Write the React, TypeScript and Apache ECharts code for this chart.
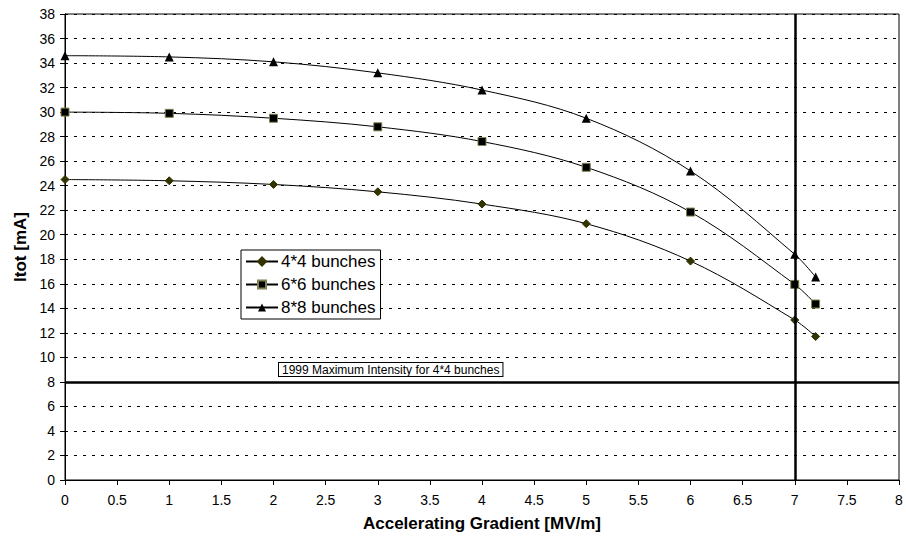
import React, { useEffect, useRef } from "react";
import * as echarts from "echarts";

const gradient = [0, 1, 2, 3, 4, 5, 6, 7, 7.2];
const bunches4 = [24.5, 24.4, 24.1, 23.5, 22.5, 20.9, 17.85, 13.05, 11.7];
const bunches6 = [30.0, 29.9, 29.5, 28.8, 27.6, 25.5, 21.85, 15.95, 14.35];
const bunches8 = [34.6, 34.5, 34.1, 33.2, 31.8, 29.5, 25.2, 18.4, 16.55];
const seriesNames = ["4*4 bunches", "6*6 bunches", "8*8 bunches"];
const limitGradient = 7;
const limitIntensity = 8;
const annotation = "1999 Maximum Intensity for 4*4 bunches";

const FONT = "Liberation Sans, Arial, sans-serif";

export default function App() {
  const ref = useRef<HTMLDivElement>(null);
  useEffect(() => {
    if (!ref.current) return;
    const chart = echarts.init(ref.current, undefined, { renderer: "svg" });
    const pair = (ys: number[]) => gradient.map((x, i) => [x, ys[i]]);
    const common = {
      type: "line",
      smooth: 0.35,
      showAllSymbol: true,
      lineStyle: { color: "#000", width: 1 },
    };
    chart.setOption({
      animation: false,
      textStyle: { fontFamily: FONT },
      grid: {
        left: 65,
        right: 7,
        top: 14,
        bottom: 58,
        show: true,
        borderColor: "#000",
        borderWidth: 1,
        backgroundColor: "#fff",
      },
      legend: {
        orient: "vertical",
        left: 241,
        top: 250,
        data: seriesNames,
        backgroundColor: "#fff",
        borderColor: "#000",
        borderWidth: 1,
        padding: [3, 5, 3, 4],
        itemGap: 6,
        itemWidth: 32,
        itemHeight: 10,
        textStyle: { fontFamily: FONT, fontSize: 17, lineHeight: 17, color: "#000", padding: [0, 0, 0, -2] },
      },
      xAxis: {
        type: "value",
        min: 0,
        max: 8,
        interval: 0.5,
        name: "Accelerating Gradient [MV/m]",
        nameLocation: "middle",
        nameGap: 35,
        nameTextStyle: { fontFamily: FONT, fontSize: 17, fontWeight: "bold", color: "#000" },
        axisLine: { lineStyle: { color: "#000", width: 1 } },
        axisTick: { show: true, length: 5, lineStyle: { color: "#000" } },
        axisLabel: { fontFamily: FONT, fontSize: 14, color: "#000", margin: 13 },
        splitLine: { show: false },
      },
      yAxis: {
        type: "value",
        min: 0,
        max: 38,
        interval: 2,
        name: "Itot [mA]",
        nameLocation: "middle",
        nameGap: 35,
        nameTextStyle: { fontFamily: FONT, fontSize: 17, fontWeight: "bold", color: "#000" },
        axisLine: { show: true, lineStyle: { color: "#000", width: 1 } },
        axisTick: { show: true, length: 5, lineStyle: { color: "#000" } },
        axisLabel: { fontFamily: FONT, fontSize: 14, color: "#000", margin: 10 },
        splitLine: { show: true, lineStyle: { color: "#000", type: [3, 6], width: 1 } },
      },
      series: [
        {
          ...common,
          name: seriesNames[0],
          data: pair(bunches4),
          symbol: "diamond",
          symbolSize: 8,
          itemStyle: { color: "#333300", borderColor: "#333300", borderWidth: 1 },
          z: 3,
          markLine: {
            silent: true,
            symbol: "none",
            label: { show: false },
            lineStyle: { color: "#000", width: 2.5, type: "solid" },
            data: [{ xAxis: limitGradient }, { yAxis: limitIntensity }],
          },
        },
        {
          ...common,
          name: seriesNames[1],
          data: pair(bunches6),
          symbol: "rect",
          symbolSize: 8,
          itemStyle: { color: "#000", borderColor: "#808050", borderWidth: 1 },
          z: 3,
        },
        {
          ...common,
          name: seriesNames[2],
          data: pair(bunches8),
          symbol: "triangle",
          symbolSize: 9,
          itemStyle: { color: "#000", borderColor: "#000", borderWidth: 0 },
          z: 3,
        },
      ],
      graphic: [
        {
          type: "text",
          left: 278,
          top: 362,
          z: 100,
          style: {
            text: annotation,
            fontFamily: FONT,
            fontSize: 12,
            lineHeight: 13,
            fill: "#000",
            backgroundColor: "#fff",
            borderColor: "#000",
            borderWidth: 1,
            padding: [0, 3, 0, 3],
          },
        },
      ],
    });
    return () => chart.dispose();
  }, []);
  return <div ref={ref} style={{ width: 906, height: 538, position: "absolute", left: 0, top: 0 }} />;
}
